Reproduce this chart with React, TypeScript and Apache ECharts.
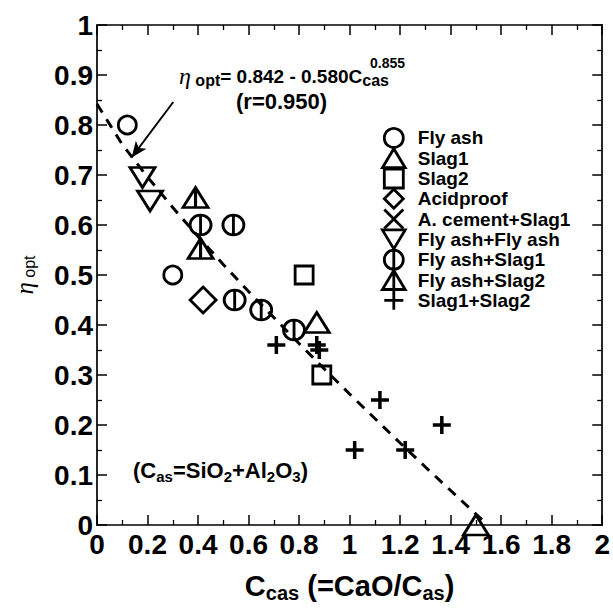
import React, { useEffect, useRef } from "react";
import * as echarts from "echarts";

// ---- data ----
const flyAsh = [[0.12, 0.80], [0.30, 0.50]];
const slag1 = [[0.87, 0.405], [1.50, 0.0]];
const slag2 = [[0.82, 0.50], [0.89, 0.30]];
const acidproof = [[0.42, 0.45]];
const aCementSlag1: number[][] = [];
const flyAshFlyAsh = [[0.18, 0.695], [0.21, 0.648]];
const flyAshSlag1 = [[0.41, 0.60], [0.54, 0.60], [0.545, 0.45], [0.65, 0.43], [0.78, 0.39]];
const flyAshSlag2 = [[0.39, 0.655], [0.41, 0.553]];
const slag1Slag2 = [[0.71, 0.36], [0.87, 0.36], [0.88, 0.35], [1.12, 0.25], [1.02, 0.15], [1.22, 0.15], [1.365, 0.20]];

const fitX = [0, 0.1, 0.2, 0.3, 0.4, 0.5, 0.6, 0.7, 0.8, 0.9, 1.0, 1.1, 1.2, 1.3, 1.4, 1.5, 1.53];
const fitY = [0.842, 0.761, 0.696, 0.635, 0.577, 0.521, 0.467, 0.415, 0.363, 0.312, 0.262, 0.213, 0.164, 0.116, 0.069, 0.022, 0.008];

const arrowStart = [0.302, 0.846];
const arrowEnd = [0.137, 0.735];

const seriesNames = [
  "Fly ash",
  "Slag1",
  "Slag2",
  "Acidproof",
  "A. cement+Slag1",
  "Fly ash+Fly ash",
  "Fly ash+Slag1",
  "Fly ash+Slag2",
  "Slag1+Slag2",
];

const SYM_TRI_DOWN = "path://M0,0 L24,0 L12,20 Z";
const SYM_CIRC_LINE = "path://M10,0 A10,10 0 1,1 10,20 A10,10 0 1,1 10,0 Z M10,0 L10,20";
const SYM_TRI_LINE = "path://M12,0 L24,20 L0,20 Z M12,0 L12,20";
const SYM_TRI_UP = "path://M12,0 L24,20 L0,20 Z";
const SYM_SQUARE = "path://M0,0 L18,0 L18,18 L0,18 Z";
const SYM_DIAMOND = "path://M13,0 L26,13 L13,26 L0,13 Z";
const SYM_X = "path://M0,0 L20,20 M20,0 L0,20";
const SYM_PLUS = "path://M10,0 L10,20 M0,10 L20,10";

const font = "'Liberation Sans', Arial, sans-serif";

export default function App() {
  const ref = useRef<HTMLDivElement>(null);
  useEffect(() => {
    if (!ref.current) return;
    const chart = echarts.init(ref.current, undefined, { renderer: "svg" });
    const hollow = { color: "transparent", borderColor: "#000", borderWidth: 2.8, opacity: 1 };
    const mk = (name: string, data: number[][], symbol: string, size: number | number[]) => ({
      name,
      type: "scatter",
      data,
      symbol,
      symbolSize: size,
      itemStyle: hollow,
      z: 3,
    });
    const axisCommon = {
      min: 0,
      axisLine: { show: true, onZero: false, lineStyle: { color: "#000", width: 1.7 } },
      axisTick: { show: true, inside: true, length: 10, lineStyle: { color: "#000", width: 1.5 } },
      minorTick: { show: true, splitNumber: 2, length: 5, lineStyle: { color: "#000", width: 1.3 } },
      splitLine: { show: false },
    };
    const labelStyle = { color: "#000", fontFamily: font, fontWeight: "bold", fontSize: 28 };
    const option: any = {
      animation: false,
      backgroundColor: "#fff",
      grid: { left: 97, right: 10, top: 25, bottom: 79, containLabel: false },
      xAxis: [
        {
          ...axisCommon,
          type: "value",
          max: 2,
          interval: 0.2,
          position: "bottom",
          axisLabel: { ...labelStyle, margin: 5 },
          name: "{b|C}{s|cas}{b| (=CaO/C}{s|as}{b|)}",
          nameLocation: "middle",
          nameGap: 44,
          nameTextStyle: {
            rich: {
              b: { fontFamily: font, fontWeight: "bold", fontSize: 29, color: "#000", lineHeight: 34, verticalAlign: "middle" },
              s: { fontFamily: font, fontWeight: "bold", fontSize: 20, color: "#000", lineHeight: 20, verticalAlign: "bottom" },
            },
          },
        },
        {
          ...axisCommon,
          type: "value",
          max: 2,
          interval: 0.2,
          position: "top",
          axisLabel: { show: false },
        },
      ],
      yAxis: [
        {
          ...axisCommon,
          type: "value",
          max: 1,
          interval: 0.1,
          position: "left",
          axisLabel: { ...labelStyle, margin: 4 },
          name: "{eta|η}{s| opt}",
          nameLocation: "middle",
          nameRotate: 90,
          nameGap: 60,
          nameTextStyle: {
            rich: {
              eta: { fontFamily: "'Liberation Serif', serif", fontStyle: "italic", fontSize: 25, color: "#000", lineHeight: 26, verticalAlign: "middle" },
              s: { fontFamily: font, fontSize: 16, color: "#000", lineHeight: 16, verticalAlign: "bottom" },
            },
          },
        },
        {
          ...axisCommon,
          type: "value",
          max: 1,
          interval: 0.1,
          position: "right",
          axisLabel: { show: false },
        },
      ],
      legend: {
        data: seriesNames,
        orient: "vertical",
        left: 376,
        top: 122,
        itemWidth: 38,
        itemHeight: 19,
        itemGap: -1.5,
        itemStyle: { borderWidth: 2.8, borderColor: "#000", color: "transparent" },
        textStyle: { color: "#000", fontFamily: font, fontWeight: "bold", fontSize: 19 },
        selectedMode: false,
      },
      graphic: [
        {
          type: "text",
          left: 179,
          top: 64,
          style: {
            text: "{eta|η}{s| opt}{b|= 0.842 - 0.580C}{s|cas}",
            rich: {
              eta: { fontFamily: "'Liberation Serif', serif", fontStyle: "italic", fontSize: 24, fill: "#000", lineHeight: 24, verticalAlign: "middle" },
              b: { fontFamily: font, fontWeight: "bold", fontSize: 19, fill: "#000", lineHeight: 24, verticalAlign: "middle" },
              s: { fontFamily: font, fontWeight: "bold", fontSize: 16, fill: "#000", lineHeight: 16, verticalAlign: "bottom" },
            },
          },
        },
        {
          type: "text",
          left: 370,
          top: 56,
          style: { text: "0.855", fontFamily: font, fontWeight: "bold", fontSize: 14, fill: "#000" },
        },
        {
          type: "text",
          left: 236,
          top: 90,
          style: { text: "(r=0.950)", fontFamily: font, fontWeight: "bold", fontSize: 22, fill: "#000" },
        },
        {
          type: "text",
          left: 133,
          top: 459,
          style: {
            text: "{b|(C}{s|as}{b|=SiO}{s|2}{b|+Al}{s|2}{b|O}{s|3}{b|)}",
            rich: {
              b: { fontFamily: font, fontWeight: "bold", fontSize: 22, fill: "#000", lineHeight: 27, verticalAlign: "middle" },
              s: { fontFamily: font, fontWeight: "bold", fontSize: 15, fill: "#000", lineHeight: 15, verticalAlign: "bottom" },
            },
          },
        },
      ],
      series: [
        {
          name: "fit",
          type: "line",
          data: fitX.map((x, i) => [x, fitY[i]]),
          symbol: "none",
          lineStyle: { color: "#000", width: 3, type: [10, 8] },
          z: 2,
          markLine: {
            silent: true,
            symbol: ["none", "arrow"],
            symbolSize: [10, 16],
            label: { show: false },
            lineStyle: { color: "#000", width: 2, type: "solid" },
            data: [[{ coord: arrowStart }, { coord: arrowEnd }]],
          },
        },
        mk("Fly ash", flyAsh, "circle", 18),
        mk("Slag1", slag1, SYM_TRI_UP, [25, 20]),
        mk("Slag2", slag2, SYM_SQUARE, 18),
        mk("Acidproof", acidproof, SYM_DIAMOND, 26),
        mk("A. cement+Slag1", aCementSlag1, SYM_X, 17),
        mk("Fly ash+Fly ash", flyAshFlyAsh, SYM_TRI_DOWN, [25, 20]),
        mk("Fly ash+Slag1", flyAshSlag1, SYM_CIRC_LINE, [21, 20]),
        mk("Fly ash+Slag2", flyAshSlag2, SYM_TRI_LINE, [25, 20]),
        { ...mk("Slag1+Slag2", slag1Slag2, SYM_PLUS, 18), itemStyle: { ...hollow, borderWidth: 3.5 } },
      ],
    };
    chart.setOption(option);
    return () => chart.dispose();
  }, []);
  return <div ref={ref} style={{ position: "absolute", left: 0, top: 0, width: 613, height: 608 }} />;
}
